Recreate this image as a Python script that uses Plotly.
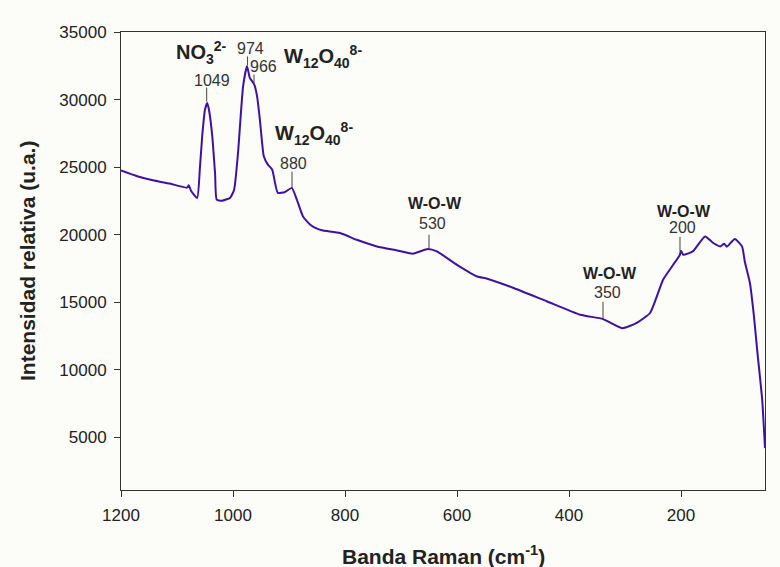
import plotly.graph_objects as go

# Raman spectrum (wavenumber cm-1, relative intensity)
wavenumber = [1200, 1171, 1143, 1113, 1082, 1079, 1075, 1064, 1059, 1055, 1050, 1046, 1043, 1037, 1032,
              1029, 1020, 1005, 998, 991, 982, 975, 970, 962, 957, 952, 945, 938, 930, 920, 907,
              895, 886, 875, 862, 850, 839, 809, 779, 743, 707, 679, 652, 636, 600, 564, 546, 500,
              439, 380, 339, 305, 279, 255, 232, 214, 202, 200, 196, 179, 157, 143, 130, 123, 118,
              104, 91, 86, 77, 70, 64, 55, 50]
intensity = [24750, 24320, 24020, 23780, 23480, 23650, 23250, 22710, 25000, 27280, 29260, 29750, 29260, 27280, 24500,
             22590, 22510, 22740, 23330, 26070, 30980, 32470, 31610, 31110, 30240, 28520, 25800, 25200, 24810, 23090, 23160,
             23460, 22590, 21350, 20740, 20450, 20310, 20120, 19620, 19130, 18830, 18590, 18940, 18760, 17770, 16900, 16740, 16070,
             15050, 14070, 13750, 13080, 13470, 14220, 16660, 17770, 18510, 18810, 18510, 18760, 19870, 19400, 19130, 19330, 19110,
             19680, 19130, 17990, 16440, 14070, 11470, 7770, 4200]

x_ticks = [1200, 1000, 800, 600, 400, 200]
y_ticks = [5000, 10000, 15000, 20000, 25000, 30000, 35000]

# Band annotations: (label text, x, y, kind)
band_labels = [
    ("NO<sub>3</sub><sup>2-</sup>", 1057, 33500, "formula"),
    ("1049", 1037.5, 31406, "number"),
    ("974", 969.6, 33777, "number"),
    ("966", 946.4, 32443, "number"),
    ("W<sub>12</sub>O<sub>40</sub><sup>8-</sup>", 839, 33150, "formula"),
    ("W<sub>12</sub>O<sub>40</sub><sup>8-</sup>", 854.5, 27520, "formula"),
    ("880", 892, 25256, "number"),
    ("W-O-W", 639.3, 22292, "bold"),
    ("530", 642.9, 20810, "number"),
    ("W-O-W", 326.8, 17105, "bold"),
    ("350", 332.1, 15697, "number"),
    ("W-O-W", 194.6, 21699, "bold"),
    ("200", 198.2, 20514, "number"),
]
# Marker lines: (x, y_top, y_bottom)
band_lines = [
    (1047, 30888, 29850),
    (974, 33185, 32518),
    (962.5, 31851, 31110),
    (894.6, 24663, 23478),
    (650, 19995, 18958),
    (339.3, 15030, 13770),
    (201.8, 19846, 18735),
]

FONT = "Liberation Sans, Arial, sans-serif"
BG = "#fcfcf9"

fig = go.Figure()
fig.add_trace(go.Scatter(x=wavenumber, y=intensity, mode="lines",
                         line=dict(color="#3d12a2", width=2, shape="spline", smoothing=0.5),
                         showlegend=False, hoverinfo="skip"))

for (xv, y0, y1) in band_lines:
    fig.add_shape(type="line", x0=xv, x1=xv, y0=y0, y1=y1, xref="x", yref="y",
                  line=dict(color="#444444", width=1))

styles = {
    "formula": (20, "#222222", True),
    "bold": (16, "#222222", True),
    "number": (16, "#333333", False),
}
for (txt, xv, yv, kind) in band_labels:
    size, color, bold = styles[kind]
    fig.add_annotation(x=xv, y=yv, xref="x", yref="y", showarrow=False,
                       text=f"<b>{txt}</b>" if bold else txt,
                       font=dict(family=FONT, size=size, color=color),
                       xanchor="center", yanchor="middle")

fig.add_annotation(x=-0.146, y=0.5, xref="paper", yref="paper", showarrow=False,
                   text="<b>Intensidad relativa (u.a.)</b>", textangle=-90,
                   font=dict(family=FONT, size=21, color="#222222"),
                   xanchor="center", yanchor="middle")
fig.add_annotation(x=0.5, y=-0.141, xref="paper", yref="paper", showarrow=False,
                   text="<b>Banda Raman (cm<sup>-1</sup>)</b>",
                   font=dict(family=FONT, size=21, color="#222222"),
                   xanchor="center", yanchor="middle")

axis_common = dict(ticks="outside", ticklen=6, tickcolor="#333333", showline=True,
                   linecolor="#333333", linewidth=1, mirror=True, showgrid=False,
                   zeroline=False, tickformat="d",
                   tickfont=dict(family=FONT, size=17, color="#222222"))

fig.update_layout(
    width=780, height=567,
    margin=dict(l=121, r=15, t=32, b=77),
    paper_bgcolor=BG, plot_bgcolor=BG,
    xaxis=dict(range=[1200, 50], tickvals=x_ticks, ticklabelstandoff=4, **axis_common),
    yaxis=dict(range=[1100, 35000], tickvals=y_ticks, ticklabelstandoff=4, **axis_common),
)

fig.write_html("out.html", config={"displayModeBar": False},
               post_script="document.body.style.margin='0';document.body.style.background='#fcfcf9';")
